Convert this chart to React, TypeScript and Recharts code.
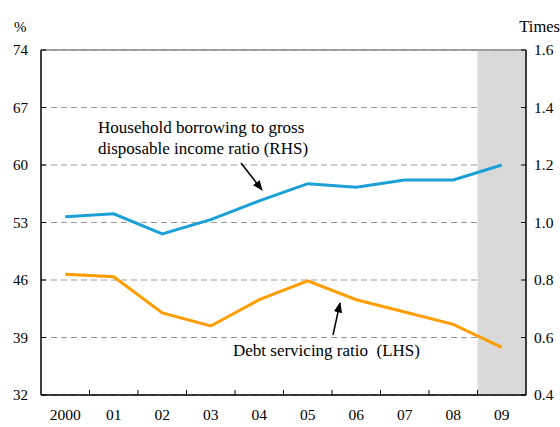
import React from "react";
import {
  LineChart,
  Line,
  XAxis,
  YAxis,
  CartesianGrid,
  ReferenceArea,
  ReferenceLine,
} from "recharts";

const years = ["2000", "01", "02", "03", "04", "05", "06", "07", "08", "09"];
const debtServicing = [46.7, 46.4, 42.0, 40.4, 43.6, 45.9, 43.6, 42.1, 40.6, 37.8];
const borrowingRatio = [1.02, 1.03, 0.96, 1.01, 1.075, 1.135, 1.123, 1.148, 1.148, 1.2];
const leftTicks = [32, 39, 46, 53, 60, 67, 74];
const rightTicks = [0.4, 0.6, 0.8, 1.0, 1.2, 1.4, 1.6];

const data = years.map((year, i) => ({
  year,
  dsr: debtServicing[i],
  borrowing: borrowingRatio[i],
}));

const W = 560;
const H = 427;
const FONT = "'Liberation Serif', 'Times New Roman', serif";
const BAND = (526 - 41) / years.length;

const LeftTick = ({ x, y, payload }: any) => (
  <g>
    <line x1={x} y1={y} x2={x + 5} y2={y} stroke="#000" />
    <text x={x - 13} y={y} dy={5} textAnchor="end" fontSize={15} fontFamily={FONT} fill="#000">
      {payload.value}
    </text>
  </g>
);

const RightTick = ({ x, y, payload }: any) => (
  <g>
    <line x1={x - 5} y1={y} x2={x} y2={y} stroke="#000" />
    <text x={x + 8} y={y} dy={5} textAnchor="start" fontSize={15.5} fontFamily={FONT} fill="#000">
      {Number(payload.value).toFixed(1)}
    </text>
  </g>
);

const BottomTick = ({ x, y, payload, index }: any) => (
  <g>
    {index < years.length - 1 && (
      <line x1={x + BAND / 2} y1={y} x2={x + BAND / 2} y2={y - 5} stroke="#000" />
    )}
    <text x={x} y={y + 20} dy={5} textAnchor="middle" fontSize={15.5} fontFamily={FONT} fill="#000">
      {payload.value}
    </text>
  </g>
);

export default function App() {
  return (
    <div style={{ position: "absolute", left: 0, top: 0, width: W, height: H, background: "#fff", fontFamily: FONT }}>
      <LineChart width={W} height={H} data={data} margin={{ top: 50, right: 0, left: 0, bottom: 0 }}>
        <ReferenceArea yAxisId="left" x1="09" x2="09" y1={32} y2={74} fill="#d9d9d9" fillOpacity={1} stroke="none" />
        <CartesianGrid yAxisId="left" vertical={false} stroke="#999" strokeDasharray="6 4" />
        <ReferenceLine yAxisId="left" y={74} stroke="#888" strokeWidth={1.5} />
        <XAxis
          dataKey="year"
          scale="band"
          height={32}
          tickSize={0}
          tickMargin={0}
          tickLine={false}
          axisLine={{ stroke: "#000", strokeWidth: 1.5 }}
          tick={<BottomTick />}
          interval={0}
        />
        <YAxis
          yAxisId="left"
          width={41}
          domain={[32, 74]}
          ticks={leftTicks}
          tickSize={0}
          tickMargin={0}
          tickLine={false}
          axisLine={{ stroke: "#000", strokeWidth: 1.5 }}
          tick={<LeftTick />}
          interval={0}
        />
        <YAxis
          yAxisId="right"
          orientation="right"
          width={34}
          domain={[0.4, 1.6]}
          ticks={rightTicks}
          tickSize={0}
          tickMargin={0}
          tickLine={false}
          axisLine={{ stroke: "#000", strokeWidth: 1.5 }}
          tick={<RightTick />}
          interval={0}
        />
        <Line
          yAxisId="right"
          type="linear"
          dataKey="borrowing"
          stroke="#1aa0d6"
          strokeWidth={3}
          dot={false}
          isAnimationActive={false}
        />
        <Line
          yAxisId="left"
          type="linear"
          dataKey="dsr"
          stroke="#ff9c00"
          strokeWidth={3}
          dot={false}
          isAnimationActive={false}
        />
      </LineChart>
      <svg width={W} height={H} style={{ position: "absolute", left: 0, top: 0, pointerEvents: "none" }}>
        <defs>
          <marker id="arrow" viewBox="0 0 10 10" refX="9" refY="5" markerWidth="7" markerHeight="7" orient="auto-start-reverse">
            <path d="M0,1 L10,5 L0,9 z" fill="#000" />
          </marker>
        </defs>
        <g fontFamily={FONT} fill="#000">
          <text x={14} y={32} fontSize={15}>%</text>
          <text x={560} y={32} fontSize={16.5} textAnchor="end">Times</text>
          <text x={98} y={133} fontSize={17}>Household borrowing to gross</text>
          <text x={98} y={154} fontSize={17}>disposable income ratio (RHS)</text>
          <text x={233} y={356} fontSize={17}>{"Debt servicing ratio\u00a0\u00a0(LHS)"}</text>
        </g>
        <line x1={241} y1={163} x2={262} y2={190} stroke="#000" strokeWidth={1.5} markerEnd="url(#arrow)" />
        <line x1={333} y1={335} x2={340} y2={303} stroke="#000" strokeWidth={1.5} markerEnd="url(#arrow)" />
      </svg>
    </div>
  );
}
